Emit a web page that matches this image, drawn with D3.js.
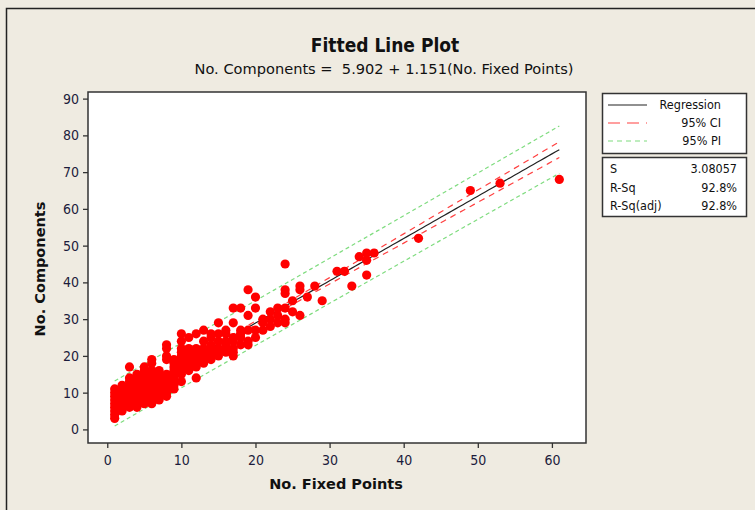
<!DOCTYPE html>
<meta charset="utf-8">
<style>
body { margin: 0; background: #efebe1; }
text { font-family: "DejaVu Sans Condensed", "DejaVu Sans", sans-serif; fill: #1c1c3c; }
.title { font-size: 19px; font-weight: bold; fill: #111; }
.subtitle { font-family: "DejaVu Sans", sans-serif; font-size: 14.6px; fill: #111; }
.axis-label { font-family: "DejaVu Sans", sans-serif; font-size: 14.5px; font-weight: bold; fill: #111; }
.tick text { font-size: 14px; fill: #1c1c3c; }
.legend text { font-size: 12.5px; fill: #111; }
</style>
<svg width="755" height="510"></svg>
<script src="https://d3js.org/d3.v7.min.js"></script>
<script>

// regression printed on the chart
var intercept = 5.902,
    slope = 1.151,
    sValue = 3.08057,
    rSq = "92.8%",
    rSqAdj = "92.8%";

// observations, grouped by No. Fixed Points
var fixedPoints = [
  1,1,1,1,1,1,1,1,1,
  2,2,2,2,2,2,2,2,2,
  3,3,3,3,3,3,3,3,3,3,
  4,4,4,4,4,4,4,4,4,4,
  5,5,5,5,5,5,5,5,5,5,5,
  6,6,6,6,6,6,6,6,6,6,6,6,
  7,7,7,7,7,7,7,7,7,
  8,8,8,8,8,8,8,8,8,8,8,
  9,9,9,9,9,9,9,9,9,
  10,10,10,10,10,10,10,10,10,10,10,
  11,11,11,11,11,11,11,11,
  12,12,12,12,12,12,12,12,
  13,13,13,13,13,13,13,
  14,14,14,14,14,14,14,
  15,15,15,15,15,15,
  16,16,16,16,16,16,
  17,17,17,17,17,17,17,
  18,18,18,18,18,
  19,19,19,19,19,
  20,20,20,20,
  21,21,21,
  22,22,22,
  23,23,23,
  24,24,24,24,24,24,
  25,25,
  26,26,26,
  27, 28, 29, 31, 32, 33, 34,
  35,35,35,
  36, 42, 49, 53, 61
];

var components = [
  3,4,5,6,7,8,9,10,11,
  5,6,7,8,8,9,10,11,12,
  6,7,8,9,10,11,12,13,14,17,
  6,7,8,9,10,11,12,13,14,15,
  7,8,9,10,11,12,13,14,15,16,17,
  7,8,9,10,11,12,13,14,15,16,18,19,
  8,9,10,11,12,13,14,15,16,
  9,10,11,12,13,14,15,19,20,22,23,
  11,12,13,14,15,16,17,18,19,
  13,15,16,17,18,19,20,21,22,24,26,
  16,17,18,19,20,21,22,25,
  14,17,18,19,20,21,22,26,
  18,19,20,21,22,24,27,
  19,20,21,22,23,25,26,
  20,21,22,24,26,29,
  21,22,23,24,26,27,
  20,21,22,24,25,29,33,
  23,25,26,27,33,
  23,24,27,31,38,
  25,27,33,36,
  27,29,30,
  28,30,32,
  29,31,33,
  29,30,33,37,38,45,
  32,35,
  31,38,39,
  36, 39, 35, 43, 43, 39, 47,
  42,46,48,
  48, 52, 65, 67, 68
];

var xTicks = [0, 10, 20, 30, 40, 50, 60],
    yTicks = [0, 10, 20, 30, 40, 50, 60, 70, 80, 90];

var legendItems = ["Regression", "95% CI", "95% PI"],
    statNames = ["S", "R-Sq", "R-Sq(adj)"],
    statValues = [sValue.toFixed(5), rSq, rSqAdj];

var svg = d3.select("svg");

// outer frame
svg.append("rect")
    .attr("x", 6.5).attr("y", 8.5)
    .attr("width", 800).attr("height", 600)
    .attr("fill", "#efebe1")
    .attr("stroke", "#222")
    .attr("stroke-width", 1.5);

var plot = { left: 88, top: 92, right: 586, bottom: 443 };

var x = d3.scaleLinear().domain([-2.6, 64.6]).range([plot.left, plot.right]);
var y = d3.scaleLinear().domain([-3.7, 91.8]).range([plot.bottom, plot.top]);

svg.append("rect")
    .attr("x", plot.left).attr("y", plot.top)
    .attr("width", plot.right - plot.left)
    .attr("height", plot.bottom - plot.top)
    .attr("fill", "#fff");

svg.append("defs").append("clipPath").attr("id", "clip")
  .append("rect")
    .attr("x", plot.left).attr("y", plot.top)
    .attr("width", plot.right - plot.left)
    .attr("height", plot.bottom - plot.top);

// titles
svg.append("text").attr("class", "title")
    .attr("x", 385).attr("y", 52)
    .attr("text-anchor", "middle")
    .text("Fitted Line Plot");

svg.append("text").attr("class", "subtitle")
    .attr("x", 384).attr("y", 74)
    .attr("text-anchor", "middle")
    .attr("xml:space", "preserve")
    .text("No. Components =  5.902 + 1.151(No. Fixed Points)");

// axes
var xAxis = svg.append("g")
    .attr("transform", "translate(0," + plot.bottom + ")")
    .call(d3.axisBottom(x).tickValues(xTicks).tickSize(5).tickPadding(7));
var yAxis = svg.append("g")
    .attr("transform", "translate(" + plot.left + ",0)")
    .call(d3.axisLeft(y).tickValues(yTicks).tickSize(5).tickPadding(4));
[xAxis, yAxis].forEach(function(a) {
  a.select(".domain").remove();
  a.selectAll(".tick line").attr("stroke", "#333").attr("stroke-width", 1.3);
});

svg.append("text").attr("class", "axis-label")
    .attr("x", 336).attr("y", 489)
    .attr("text-anchor", "middle")
    .text("No. Fixed Points");

svg.append("text").attr("class", "axis-label")
    .attr("transform", "translate(45,269) rotate(-90)")
    .attr("text-anchor", "middle")
    .text("No. Components");

// bands from the printed fit
var n = fixedPoints.length,
    xbar = d3.mean(fixedPoints),
    sxx = d3.sum(fixedPoints, function(v) { return (v - xbar) * (v - xbar); }),
    tval = 1.97;

var grid = d3.range(d3.min(fixedPoints), d3.max(fixedPoints) + 0.01, 0.5);
function fit(v) { return intercept + slope * v; }
function half(v, extra) {
  return tval * sValue * Math.sqrt(extra + 1 / n + (v - xbar) * (v - xbar) / sxx);
}

var g = svg.append("g").attr("clip-path", "url(#clip)");

var line = d3.line().x(function(d) { return x(d[0]); }).y(function(d) { return y(d[1]); });

g.append("path")
    .attr("d", line(grid.map(function(v) { return [v, fit(v)]; })))
    .attr("fill", "none").attr("stroke", "#222").attr("stroke-width", 1.2);

[-1, 1].forEach(function(sgn) {
  g.append("path")
      .attr("d", line(grid.map(function(v) { return [v, fit(v) + sgn * half(v, 0)]; })))
      .attr("fill", "none").attr("stroke", "#ff4040").attr("stroke-width", 1.2)
      .attr("stroke-dasharray", "6,5");
  g.append("path")
      .attr("d", line(grid.map(function(v) { return [v, fit(v) + sgn * half(v, 1)]; })))
      .attr("fill", "none").attr("stroke", "#7fdc7f").attr("stroke-width", 1.2)
      .attr("stroke-dasharray", "4,3");
});

// points on top of the fitted lines
g.selectAll("circle")
  .data(fixedPoints.map(function(v, i) { return [v, components[i]]; }))
  .enter().append("circle")
    .attr("cx", function(d) { return x(d[0]); })
    .attr("cy", function(d) { return y(d[1]); })
    .attr("r", 4.6)
    .attr("fill", "#ff0000");

svg.append("rect")
    .attr("x", plot.left).attr("y", plot.top)
    .attr("width", plot.right - plot.left)
    .attr("height", plot.bottom - plot.top)
    .attr("fill", "none")
    .attr("stroke", "#333").attr("stroke-width", 1.5);

// legend
var legend = svg.append("g").attr("class", "legend");
legend.append("rect")
    .attr("x", 602.5).attr("y", 93.5).attr("width", 144).attr("height", 60)
    .attr("fill", "#fff").attr("stroke", "#333").attr("stroke-width", 1.5);
var styles = [
  { stroke: "#222", dash: null },
  { stroke: "#ff4040", dash: "12,7" },
  { stroke: "#7fdc7f", dash: "5,4" }
];
legendItems.forEach(function(name, i) {
  var yy = 105 + i * 18;
  legend.append("line")
      .attr("x1", 608).attr("x2", 647).attr("y1", yy).attr("y2", yy)
      .attr("stroke", styles[i].stroke).attr("stroke-width", 1.2)
      .attr("stroke-dasharray", styles[i].dash);
  legend.append("text")
      .attr("x", 721).attr("y", yy + 4)
      .attr("text-anchor", "end")
      .text(name);
});

legend.append("rect")
    .attr("x", 602.5).attr("y", 157.5).attr("width", 144).attr("height", 59)
    .attr("fill", "#fff").attr("stroke", "#333").attr("stroke-width", 1.5);
statNames.forEach(function(name, i) {
  var yy = 173 + i * 18.5;
  legend.append("text").attr("x", 610).attr("y", yy).text(name);
  legend.append("text").attr("x", 737).attr("y", yy)
      .attr("text-anchor", "end").text(statValues[i]);
});

</script>
